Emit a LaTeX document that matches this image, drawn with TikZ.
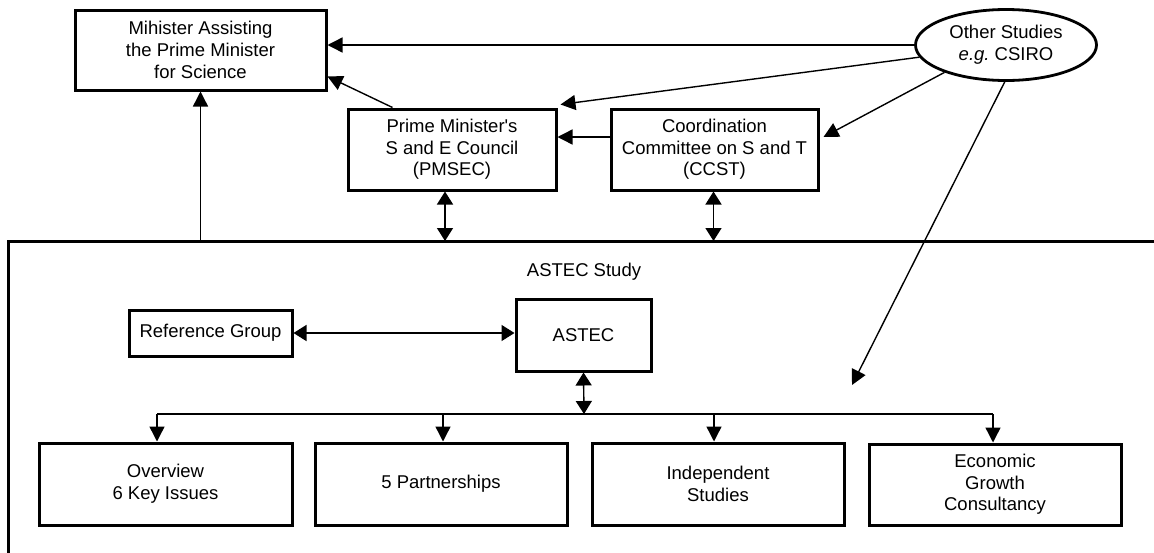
\documentclass[tikz,border=0pt]{standalone}
\usepackage{fontspec}
\setmainfont{Liberation Sans}
\usetikzlibrary{arrows.meta,shapes.geometric}

\tikzset{
  lbl/.style={font=\fontsize{18.5}{21.7}\selectfont, align=center},
  box/.style={lbl, draw, line width=3pt, inner sep=0pt},
  oval/.style={lbl, ellipse, draw, line width=2.8pt, inner sep=0pt,
    minimum width=181pt, minimum height=71pt},
  frame/.style={line width=3pt},
  arr/.style={line width=1.4pt, -{Triangle[length=15pt,width=15pt]}},
  dbl/.style={line width=1.4pt,
    {Triangle[length=13pt,width=16pt]}-{Triangle[length=13pt,width=16pt]}},
  bus/.style={line width=1.4pt}
}

\begin{document}
\begin{tikzpicture}[x=1pt,y=-1pt]
\useasboundingbox (0,0) rectangle (1154,552);

% outer frame of the study (open to the right and below)
\coordinate (top) at (8,241);
\draw[frame] (8,560) -- (top) -- (1160,241);

% upper level
\node[box, minimum width=251pt, minimum height=80pt] (min) at (200.5,50)
  {Mihister Assisting\\the Prime Minister\\for Science};
\node[box, minimum width=208pt, minimum height=81pt] (pmsec) at (452,149.5)
  {Prime Minister\textquotesingle s\\S and E Council\\(PMSEC)};
\node[box, minimum width=207pt, minimum height=81pt] (ccst) at (714.5,149.5)
  {Coordination\\Committee on S and T\\(CCST)};
\node[oval] (os) at (1006,45) {Other Studies\\\textit{e.g.}\ CSIRO};

% study level
\node[lbl] (study) at (584,272) {ASTEC Study};
\node[box, minimum width=163pt, minimum height=46pt] (ref) at (210.5,333)
  {Reference Group};
\node[box, minimum width=135pt, minimum height=72pt] (astec) at (583.5,335)
  {ASTEC};

% bottom row
\node[box, minimum width=253pt, minimum height=82pt] (ov) at (165.5,484)
  {Overview\\6 Key Issues};
\node[box, minimum width=252pt, minimum height=82pt] (pt) at (441,484)
  {5 Partnerships};
\node[box, minimum width=252pt, minimum height=82pt] (ind) at (718,484)
  {Independent\\Studies};
\node[box, minimum width=252pt, minimum height=81pt] (eco) at (995,484.5)
  {Economic\\Growth\\Consultancy};

% links into the upper level
\draw[arr] (os.west) -- (os.west -| min.east);
\draw[arr] ([xshift=46pt]pmsec.north west) -- ([yshift=15pt]min.south east);
\draw[arr] (os.188) -- ([xshift=3pt,yshift=3pt]pmsec.north east);
\draw[arr] ([yshift=12.5pt]ccst.west) -- ([yshift=12.5pt]pmsec.east);
\draw[arr] (os.204) -- ([xshift=4pt,yshift=12.5pt]ccst.east);
\coordinate (osend) at (852,385);
\draw[arr] (os.268) -- (osend);

% links between the frame and the upper level
\draw[arr] (min.south |- top) -- (min.south);
\draw[dbl] ([xshift=-7pt]pmsec.south) -- ([xshift=-7pt]pmsec.south |- top);
\draw[dbl] ([xshift=-1pt]ccst.south) -- ([xshift=-1pt]ccst.south |- top);

% inside the study
\draw[dbl] (ref.east) -- (ref.east -| astec.west);
\coordinate (b0) at (584,414);
\coordinate (b1) at (157,414);
\coordinate (b2) at (443,414);
\coordinate (b3) at (714,414);
\coordinate (b4) at (993,414);
\draw[dbl] (astec.south) -- (b0);
\draw[bus] (b1) -- (b4);
\draw[arr] (b1) -- (b1 |- ov.north);
\draw[arr] (b2) -- (b2 |- pt.north);
\draw[arr] (b3) -- (b3 |- ind.north);
\draw[arr] (b4) -- (b4 |- eco.north);
\end{tikzpicture}
\end{document}
